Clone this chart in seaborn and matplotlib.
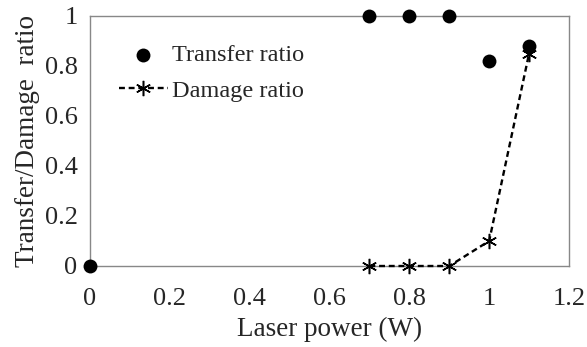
import matplotlib
matplotlib.use("Agg")
import matplotlib.pyplot as plt
import seaborn as sns
import pandas as pd

transfer_x = [0, 0.7, 0.8, 0.9, 1.0, 1.1]
transfer_y = [0, 1.0, 1.0, 1.0, 0.82, 0.88]
damage_x = [0.7, 0.8, 0.9, 1.0, 1.1]
damage_y = [0, 0, 0, 0.1, 0.85]

sns.set_style("white")
plt.rcParams['font.family'] = ['Liberation Serif', 'DejaVu Serif']

fig = plt.figure(figsize=(5.87, 3.47), dpi=100)
ax = fig.add_axes([90/587, 1-266/347, (569-90)/587, (266-16)/347])

dt = pd.DataFrame({"x": transfer_x, "y": transfer_y})
dd = pd.DataFrame({"x": damage_x, "y": damage_y})

sns.scatterplot(data=dt, x="x", y="y", ax=ax, color="black", s=100, marker="o",
                edgecolor="black", linewidth=0, label="Transfer ratio", zorder=5, clip_on=False)
sns.lineplot(data=dd, x="x", y="y", ax=ax, color="black", linestyle=(0, (2.5, 1.6)), linewidth=1.7,
             marker=(6, 2, 0), markersize=11, markeredgewidth=1.1, markeredgecolor="black",
             markerfacecolor="black", label="Damage ratio", clip_on=False, zorder=4)

ax.set_xlim(0, 1.2)
ax.set_ylim(0, 1)
ax.set_xticks([0, 0.2, 0.4, 0.6, 0.8, 1.0, 1.2])
ax.set_xticklabels(["0", "0.2", "0.4", "0.6", "0.8", "1", "1.2"])
ax.set_yticks([0, 0.2, 0.4, 0.6, 0.8, 1.0])
ax.set_yticklabels(["0", "0.2", "0.4", "0.6", "0.8", "1"])
ax.tick_params(axis="x", direction="in", length=6, color="#888888", pad=16, labelsize=19)
ax.tick_params(axis="y", direction="in", length=6, color="#888888", pad=9, labelsize=19)
for sp in ax.spines.values():
    sp.set_color("#888888")
    sp.set_linewidth(1.0)
ax.set_xlabel("Laser power (W)", fontsize=19.5, labelpad=5)
ax.set_ylabel("Transfer/Damage  ratio", fontsize=19.5, labelpad=3)
ax.grid(False)

leg = ax.legend(loc="upper left", bbox_to_anchor=(0.035, 0.935), frameon=False, fontsize=17.5,
                handlelength=2.0, handletextpad=0.2, labelspacing=0.55, borderpad=0)

fig.savefig("out.png", dpi=100)
